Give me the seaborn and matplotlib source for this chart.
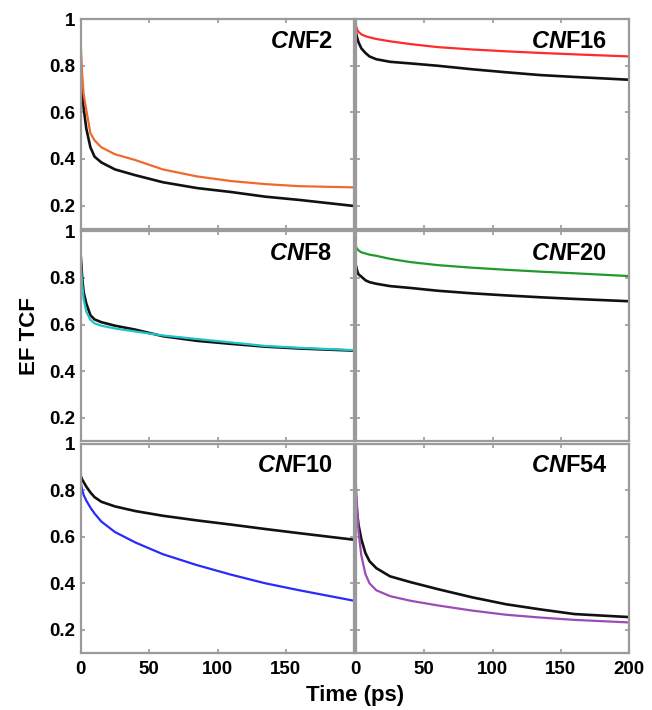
import pandas as pd
import matplotlib.pyplot as plt
import seaborn as sns

# time grid (ps) and read-off EF TCF values
time = [0, 1, 2, 4, 7, 10, 15, 25, 40, 60, 85, 110, 135, 160, 200]

cnf2_col = [0.88, 0.76, 0.68, 0.61, 0.51, 0.48, 0.45, 0.42, 0.395, 0.355, 0.325, 0.305, 0.292, 0.283, 0.278]
cnf2_ref = [0.80, 0.70, 0.62, 0.53, 0.45, 0.41, 0.385, 0.355, 0.33, 0.30, 0.275, 0.258, 0.238, 0.224, 0.198]

cnf16_col = [0.975, 0.955, 0.945, 0.935, 0.927, 0.922, 0.915, 0.905, 0.893, 0.88, 0.87, 0.862, 0.855, 0.849, 0.84]
cnf16_ref = [0.945, 0.92, 0.90, 0.875, 0.855, 0.84, 0.828, 0.817, 0.81, 0.80, 0.785, 0.772, 0.76, 0.752, 0.74]

cnf8_col = [0.855, 0.77, 0.71, 0.655, 0.62, 0.605, 0.595, 0.583, 0.57, 0.553, 0.538, 0.523, 0.508, 0.50, 0.49]
cnf8_ref = [0.89, 0.80, 0.74, 0.69, 0.64, 0.622, 0.61, 0.595, 0.578, 0.55, 0.53, 0.517, 0.505, 0.497, 0.488]

cnf20_col = [0.934, 0.925, 0.918, 0.91, 0.905, 0.90, 0.895, 0.882, 0.868, 0.855, 0.844, 0.835, 0.827, 0.82, 0.808]
cnf20_ref = [0.855, 0.83, 0.815, 0.806, 0.79, 0.782, 0.775, 0.765, 0.757, 0.745, 0.734, 0.725, 0.717, 0.71, 0.70]

cnf10_col = [0.83, 0.80, 0.78, 0.755, 0.725, 0.70, 0.665, 0.62, 0.575, 0.525, 0.478, 0.437, 0.40, 0.37, 0.325]
cnf10_ref = [0.86, 0.845, 0.835, 0.815, 0.79, 0.77, 0.75, 0.73, 0.71, 0.69, 0.67, 0.652, 0.633, 0.615, 0.587]

cnf54_col = [0.83, 0.72, 0.62, 0.52, 0.44, 0.40, 0.37, 0.345, 0.325, 0.305, 0.283, 0.265, 0.253, 0.243, 0.232]
cnf54_ref = [0.77, 0.70, 0.65, 0.59, 0.53, 0.495, 0.465, 0.43, 0.405, 0.375, 0.34, 0.31, 0.288, 0.268, 0.255]

panels = [
    ('2', cnf2_col, cnf2_ref, '#EE6A2C'),
    ('16', cnf16_col, cnf16_ref, '#FF2A2A'),
    ('8', cnf8_col, cnf8_ref, '#22C3C8'),
    ('20', cnf20_col, cnf20_ref, '#22992A'),
    ('10', cnf10_col, cnf10_ref, '#2A2AFF'),
    ('54', cnf54_col, cnf54_ref, '#9A4DB5'),
]

sns.set_style("ticks")
plt.rcParams['font.family'] = ['Liberation Sans', 'DejaVu Sans']
plt.rcParams['font.weight'] = 'bold'
plt.rcParams['text.color'] = 'black'
plt.rcParams['mathtext.fontset'] = 'custom'
plt.rcParams['mathtext.it'] = 'Liberation Sans:italic:bold'
plt.rcParams['mathtext.rm'] = 'Liberation Sans:bold'
plt.rcParams['mathtext.bf'] = 'Liberation Sans:bold'

fig, axes = plt.subplots(3, 2, figsize=(6.52, 7.10), dpi=100,
                         gridspec_kw=dict(wspace=0.006, hspace=0.012))
fig.subplots_adjust(left=0.124, right=0.965, top=0.973, bottom=0.080)

edge = '#9a9a9a'
for i, (ax, (name, col, ref, color)) in enumerate(zip(axes.flat, panels)):
    row, c = divmod(i, 2)
    df = pd.DataFrame({'Time': time, 'colored': col, 'black': ref})
    sns.lineplot(data=df, x='Time', y='black', color='#111111', lw=1.9, ax=ax)
    sns.lineplot(data=df, x='Time', y='colored', color=color, lw=1.6, ax=ax)
    ax.set_xlim(0, 200)
    ax.set_ylim(0.1, 1.0)
    ax.set_xlabel('')
    ax.set_ylabel('')
    ax.set_xticks([0, 50, 100, 150, 200])
    ax.set_yticks([0.2, 0.4, 0.6, 0.8, 1.0])
    if c == 0:
        ax.set_yticklabels(['0.2', '0.4', '0.6', '0.8', '1'], fontweight='bold')
    else:
        ax.set_yticklabels([])
    if row == 2:
        xl = ['0', '50', '100', '150', ''] if c == 0 else ['0', '50', '100', '150', '200']
        ax.set_xticklabels(xl, fontweight='bold')
    else:
        ax.set_xticklabels([])
    ax.tick_params(direction='in', length=3, width=1.2, color=edge, labelsize=13.5,
                   labelcolor='black', top=True, right=True, pad=4)
    ax.tick_params(axis='x', pad=5.5)
    for sp in ax.spines.values():
        sp.set_color(edge)
        sp.set_linewidth(1.6)
    ax.text(0.92, 0.895, r'$\mathit{CN}\mathrm{F' + name + '}$', transform=ax.transAxes,
            ha='right', va='center', fontsize=17)

fig.text(0.046, 0.527, 'EF TCF', rotation=90, ha='center', va='center', fontsize=16, fontweight='bold')
fig.text(0.545, 0.006, 'Time (ps)', ha='center', va='bottom', fontsize=16, fontweight='bold')

plt.savefig('out.png', dpi=100)
